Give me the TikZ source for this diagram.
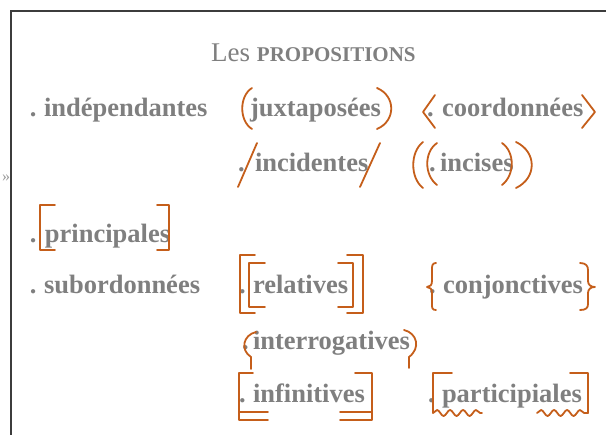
\documentclass[tikz,border=0pt]{standalone}
\usepackage{fontspec}
\setmainfont{Liberation Serif}
\usetikzlibrary{decorations.pathmorphing}
\definecolor{txtgray}{HTML}{7F7F7F}
\definecolor{brk}{HTML}{C55E1A}
\definecolor{framegray}{HTML}{3C3C3C}
\definecolor{markgray}{HTML}{9A9A9A}
\begin{document}
\begin{tikzpicture}[x=1pt,y=-1pt,
  word/.style={anchor=base west, inner sep=0pt, outer sep=0pt, text=txtgray, font=\bfseries\fontsize{26.5}{30}\selectfont},
  dotmark/.style={word},
  brack/.style={draw=brk, line width=1.8pt, line cap=round, line join=round},
  wavy/.style={brack, decorate, decoration={snake, amplitude=3pt, segment length=13pt}},
  framestyle/.style={draw=framegray, line width=2pt}]
\useasboundingbox (0,0) rectangle (606,435);
% frame
\draw[framestyle] (606,11) -- (11,11) -- (11,435);
\node[anchor=base west, inner sep=0pt, text=markgray, font=\fontsize{16}{18}\selectfont] (mark) at (2,182) {»};
% title
\node[anchor=base west, inner sep=0pt, text=txtgray, font=\fontsize{27}{30}\selectfont] (title) at (211,62)
  {Les {\bfseries\fontsize{21}{24}\selectfont PROPOSITIONS}};
% dots
\node[dotmark] (d1) at (30,117) {.};
\node[dotmark] (d2) at (427,117) {.};
\node[dotmark] (d3) at (238,172) {.};
\node[dotmark] (d4) at (429,172) {.};
\node[dotmark] (d5) at (30,243) {.};
\node[dotmark] (d6) at (30,294) {.};
\node[dotmark] (d7) at (239,294) {.};
\node[dotmark] (d8) at (429,294) {.};
\node[dotmark] (d9) at (242,350) {.};
\node[dotmark] (d10) at (239,403) {.};
\node[dotmark] (d11) at (428,403) {.};
% words
\node[word] (indep) at (44,117) {indépendantes};
\node[word] (juxta) at (250,117) {juxtaposées};
\node[word] (coord) at (442,117) {coordonnées};
\node[word] (incid) at (255,172) {incidentes};
\node[word] (incis) at (440,172) {incises};
\node[word] (princ) at (45,243) {principales};
\node[word] (subor) at (44,294) {subordonnées};
\node[word] (relat) at (253,294) {relatives};
\node[word] (conjo) at (443,294) {conjonctives};
\node[word] (inter) at (253,350) {interrogatives};
\node[word] (infin) at (253,403) {infinitives};
\node[word] (parti) at (442,403) {participiales};
% juxtaposees ( )
\draw[brack] (252,88) .. controls (239,96) and (239,121) .. (252,129);
\draw[brack] (377,88) .. controls (396,96) and (396,121) .. (377,129);
% coordonnees < >
\draw[brack] (435,95) -- (423,112) -- (435,128);
\draw[brack] (582,95) -- (595,112) -- (582,128);
% incidentes / /
\draw[brack] (238,187) -- (257,143);
\draw[brack] (360,187) -- (380,143);
% incises (( ))
\draw[brack] (423,142) .. controls (410,152) and (410,178) .. (423,188);
\draw[brack] (437,143) .. controls (424,152) and (424,175) .. (437,185);
\draw[brack] (502,143) .. controls (515,152) and (515,175) .. (502,185);
\draw[brack] (516,142) .. controls (537,152) and (537,178) .. (516,188);
% principales [ ]
\draw[brack] (55,205) -- (40,205) -- (40,250) -- (55,250);
\draw[brack] (157,205) -- (169,205) -- (169,250) -- (157,250);
% relatives [[ ]]
\draw[brack] (255,255) -- (240,255) -- (240,313) -- (255,313);
\draw[brack] (265,263) -- (249,263) -- (249,307) -- (265,307);
\draw[brack] (338,263) -- (353,263) -- (353,307) -- (338,307);
\draw[brack] (347,255) -- (363,255) -- (363,313) -- (347,313);
% conjonctives { }
\draw[brack] (436,263) .. controls (432,263) and (432,266) .. (432,270) -- (432,281)
  .. controls (432,285) and (430,287) .. (427,287) .. controls (430,287) and (432,289) .. (432,293)
  -- (432,304) .. controls (432,308) and (432,310) .. (436,310);
\draw[brack] (580,263) .. controls (586,263) and (588,266) .. (588,270) -- (588,281)
  .. controls (588,285) and (591,287) .. (595,287) .. controls (591,287) and (588,289) .. (588,293)
  -- (588,304) .. controls (588,308) and (586,310) .. (580,310);
% interrogatives
\draw[brack] (256,332) .. controls (243,335) and (240,350) .. (251,357) -- (251,369);
\draw[brack] (404,330) .. controls (417,333) and (421,348) .. (409,357) -- (409,368);
% infinitives
\draw[brack] (253,373) -- (239,373) -- (239,420) -- (268,420);
\draw[brack] (239,412) -- (268,412);
\draw[brack] (355,373) -- (372,373) -- (372,420) -- (340,420);
\draw[brack] (372,412) -- (340,412);
% participiales
\draw[brack] (452,373) -- (433,373) -- (433,413);
\draw[wavy] (433,413) -- (482,413);
\draw[brack] (570,373) -- (588,373) -- (588,413);
\draw[wavy] (537,413) -- (588,413);
\end{tikzpicture}
\end{document}
